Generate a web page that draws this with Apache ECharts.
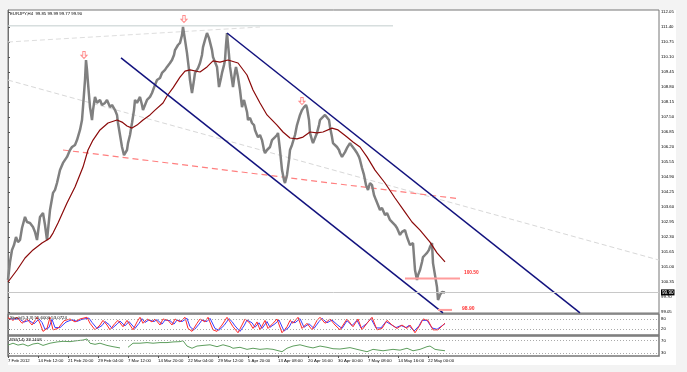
<!DOCTYPE html>
<html><head><meta charset="utf-8">
<script src="https://cdn.jsdelivr.net/npm/echarts@6/dist/echarts.min.js"></script>
<style>html,body{margin:0;padding:0;background:#f3f3f3}#c{width:687px;height:372px}</style>
</head><body><div id="c"></div>
<script>
// ---- data ----
const chartTitle = 'EURJPY,H4  99.85 99.99 99.77 99.90';
const stochTitle = 'Stoch(5,3,3) 55.6000 53.0724';
const rsiTitle = 'RSI(14) 38.1408';
const xTickLabels = ['7 Feb 2012','14 Feb 12:00','21 Feb 20:00','29 Feb 04:00','7 Mar 12:00','14 Mar 20:00','22 Mar 04:00','29 Mar 12:00','5 Apr 20:00','13 Apr 08:00','20 Apr 16:00','30 Apr 00:00','7 May 08:00','14 May 16:00','22 May 00:00'];
const barsPerXLabel = 30;
const totalBars = 651;
const priceTicks = [112.05,111.40,110.75,110.10,109.45,108.80,108.15,107.50,106.85,106.20,105.55,104.90,104.25,103.60,102.95,102.30,101.65,101.00,100.35,99.70,99.05];
const lastPrice = 99.90;
const priceMin = 99.007, priceMax = 112.137;
const stochTicks = [0,20,80,100];
const stochLevels = [80,20];
const rsiTicks = [30,70];
const rsiLevels = [70,30];

// bar index, close
const priceBars = [[0,100.44],[2,101.22],[4,101.74],[6,101.95],[8,102.30],[10,102.08],[12,102.17],[14,102.69],[17,103.17],[19,102.95],[22,102.91],[25,102.73],[27,102.52],[29,102.17],[32,103.17],[35,103.34],[37,102.82],[39,102.17],[42,103.47],[45,104.21],[47,104.34],[49,104.64],[52,105.20],[54,105.12],[55,105.51],[57,105.64],[59,105.77],[62,106.07],[64,106.20],[67,106.29],[69,106.50],[72,106.94],[74,107.37],[75,107.93],[77,109.10],[78,109.97],[79,109.54],[80,108.97],[82,107.93],[84,107.37],[85,107.80],[87,108.37],[89,108.11],[92,108.24],[94,108.02],[97,108.11],[99,108.24],[102,107.93],[104,108.02],[107,107.80],[109,107.59],[110,107.24],[112,106.72],[114,106.20],[116,105.85],[117,105.77],[119,106.07],[120,106.37],[122,106.72],[124,107.24],[126,107.80],[127,108.24],[129,108.11],[132,108.37],[134,108.02],[135,107.80],[137,108.02],[139,108.24],[142,108.37],[144,108.54],[147,108.89],[149,109.10],[152,109.19],[154,109.41],[157,109.54],[159,109.67],[162,109.84],[164,109.97],[166,110.19],[167,110.40],[170,110.62],[172,110.71],[174,111.05],[175,111.40],[177,110.84],[179,110.27],[181,109.54],[182,109.10],[184,108.54],[186,109.10],[187,109.41],[190,109.62],[192,109.84],[194,110.19],[195,110.53],[197,110.84],[199,111.14],[201,110.92],[202,110.84],[204,110.40],[205,110.10],[207,109.88],[209,109.67],[211,108.80],[213,109.19],[214,109.41],[216,109.75],[217,109.97],[218,110.62],[219,111.14],[221,110.19],[222,109.67],[224,109.10],[225,108.80],[227,109.45],[228,109.67],[230,109.23],[232,108.67],[234,107.93],[236,108.24],[237,108.24],[239,107.72],[240,107.37],[242,107.46],[244,107.24],[246,107.15],[247,106.94],[249,106.72],[250,106.63],[252,106.72],[254,106.50],[256,106.07],[257,105.94],[259,106.07],[262,106.20],[264,106.50],[267,106.63],[269,106.72],[270,106.81],[272,106.07],[274,105.20],[276,104.77],[277,104.64],[279,104.99],[281,105.64],[282,106.07],[284,106.29],[287,106.72],[289,107.15],[292,107.59],[294,107.80],[296,107.93],[298,108.02],[299,107.89],[301,107.37],[302,106.81],[304,106.50],[305,106.37],[307,106.59],[309,106.81],[311,107.15],[312,107.37],[314,107.46],[315,107.50],[317,107.59],[319,107.67],[321,107.37],[322,107.07],[324,106.63],[325,106.37],[327,106.29],[329,106.20],[331,106.07],[332,105.94],[334,105.77],[335,105.77],[337,105.98],[339,106.16],[342,106.37],[344,106.24],[347,106.07],[349,105.94],[351,105.77],[352,105.64],[354,105.29],[356,104.99],[358,104.55],[360,104.34],[362,104.64],[364,104.55],[366,104.12],[368,103.90],[370,103.69],[372,103.47],[374,103.56],[377,103.25],[379,103.34],[382,103.04],[384,103.12],[387,102.82],[389,102.69],[392,102.39],[394,102.52],[397,102.60],[399,102.30],[402,101.95],[405,102.04],[407,100.87],[409,100.44],[410,100.65],[412,100.87],[414,101.22],[415,101.43],[417,101.52],[419,101.61],[421,101.74],[422,101.87],[424,102.04],[425,101.17],[427,100.65],[429,100.13],[430,99.57],[432,99.79],[434,99.92],[436,100.00],[437,99.90]];

const movingAverage = [[0,100.35],[9,100.87],[17,101.39],[25,101.74],[34,102.04],[39,102.17],[42,102.26],[45,102.47],[50,102.91],[59,103.77],[67,104.47],[75,105.33],[80,106.07],[85,106.50],[92,106.94],[100,107.24],[109,107.37],[114,107.28],[119,107.11],[124,107.02],[129,107.15],[135,107.37],[142,107.59],[147,107.80],[155,108.11],[159,108.41],[165,108.76],[172,109.23],[177,109.49],[182,109.54],[192,109.45],[199,109.67],[205,109.93],[212,109.88],[220,109.97],[230,109.84],[239,109.32],[245,108.67],[252,108.11],[259,107.59],[269,107.15],[275,106.85],[282,106.59],[289,106.55],[295,106.63],[302,106.85],[309,106.81],[315,106.85],[324,107.02],[330,106.94],[339,106.63],[345,106.42],[352,106.20],[359,105.77],[367,105.20],[377,104.64],[387,103.99],[397,103.38],[404,102.95],[412,102.60],[422,102.08],[429,101.61],[437,101.22]];

const channelLower = [[113,110.06],[435,99.01]];
const channelUpper = [[219,111.14],[572,99.01]];
const dashedSupport = [[55,106.07],[452,103.95]];
const longGrayTrend = [[0,109.10],[651,101.30]];
const topGrayTrend = [[0,110.75],[252,111.40]];
const topLevel = [[0,111.45],[385,111.45]];
const level10050 = [[397,100.50],[452,100.50]];
const level9890 = [[430,99.14],[444,99.14]];
const level10050Text = '100.50';
const level9890Text = '98.90';
const fractalArrows = [[76,110.19],[176,111.75],[294,108.19]];

const stochMain = [[0,88],[5,72],[9,90],[14,55],[19,80],[24,45],[29,90],[32,55],[35,8],[39,25],[42,90],[45,17],[50,25],[56,70],[62,80],[67,63],[72,80],[79,90],[82,55],[87,17],[92,45],[95,72],[99,45],[102,17],[107,55],[110,72],[115,35],[119,72],[125,17],[129,63],[132,90],[135,55],[139,80],[144,63],[147,80],[152,45],[155,80],[160,72],[164,45],[167,80],[172,63],[177,90],[180,25],[184,8],[189,55],[192,80],[197,63],[200,90],[205,17],[209,8],[214,45],[219,90],[222,63],[225,35],[230,0],[234,45],[237,80],[242,55],[245,25],[249,63],[252,17],[257,72],[260,25],[265,55],[269,80],[274,0],[279,35],[282,72],[285,55],[290,90],[294,25],[299,55],[304,17],[309,72],[312,90],[317,55],[322,80],[327,45],[332,17],[339,80],[345,35],[350,80],[354,17],[359,55],[364,90],[369,17],[374,25],[379,72],[384,45],[389,25],[394,45],[399,25],[402,45],[407,0],[412,45],[415,80],[420,72],[425,17],[430,17],[437,55.6]];
const stochSignal = [[2,80],[7,78],[11,82],[16,62],[21,72],[26,52],[31,80],[34,60],[37,20],[41,30],[44,78],[47,30],[52,30],[58,62],[64,76],[69,66],[74,78],[81,85],[84,60],[89,25],[94,42],[97,65],[101,48],[104,25],[109,50],[112,68],[117,40],[121,65],[127,25],[131,55],[134,82],[137,60],[141,75],[146,65],[149,76],[154,50],[157,74],[162,70],[166,50],[169,74],[174,65],[179,84],[182,35],[186,15],[191,50],[194,74],[199,65],[202,84],[207,25],[211,15],[216,42],[221,82],[224,65],[227,40],[232,8],[236,40],[239,74],[244,58],[247,32],[251,58],[254,25],[259,65],[262,32],[267,52],[271,74],[276,10],[281,32],[284,65],[287,58],[292,82],[296,32],[301,52],[306,25],[311,65],[314,84],[319,58],[324,74],[329,48],[334,25],[339,70],[344,42],[349,72],[353,28],[358,50],[363,82],[368,28],[373,28],[378,65],[383,48],[388,30],[393,42],[398,30],[401,42],[406,10],[411,40],[414,72],[419,72],[424,28],[429,20],[437,53.07]];

const rsiValues = [[0,56],[5,62],[10,56],[15,59.5],[20,53],[25,59.5],[30,62],[35,55],[42,62],[49,66],[55,68],[62,67],[69,70],[75,72],[79,75.5],[82,62],[87,58.5],[92,62],[99,55],[105,51],[112,47],[116,null],[120,49],[125,62],[132,62],[139,64],[145,62],[152,64],[159,64],[165,66],[172,67],[175,70],[179,53],[184,46],[189,53],[195,55],[202,57],[209,51],[215,57],[222,51],[225,46],[232,49],[239,42.5],[245,46],[252,42.5],[259,44.5],[265,42.5],[274,35],[279,46],[285,53],[292,57],[299,51],[305,47],[312,53],[319,49],[325,44.5],[332,43.5],[342,48],[349,42.5],[359,35],[365,42.5],[375,38],[385,42.5],[392,40],[399,46],[405,38],[412,42.5],[419,51],[422,53],[427,42.5],[432,40],[437,38.14]];

// ---- chart ----
const FONT = 'Liberation Sans';
const FS = 4.3;
const chart = echarts.init(document.getElementById('c'), null, {renderer: 'canvas'});
const xTickValues = xTickLabels.map((_, i) => i * barsPerXLabel);

function xAx(g, showLabels) {
  return {
    type: 'value', gridIndex: g, min: 0, max: totalBars,
    axisLine: {show: false}, splitLine: {show: false},
    axisTick: showLabels ? {show: true, length: 2, customValues: xTickValues, lineStyle: {color: '#555'}} : {show: false},
    axisLabel: showLabels ? {
      show: true, customValues: xTickValues, align: 'left', margin: 3,
      fontSize: FS, fontFamily: FONT, color: '#000',
      formatter: v => xTickLabels[Math.round(v / barsPerXLabel)] || ''
    } : {show: false}
  };
}
function yAx(g, min, max, ticks, fmt) {
  return {
    type: 'value', gridIndex: g, position: 'right', min: min, max: max,
    axisLine: {show: true, lineStyle: {color: '#707070', width: 1}},
    axisTick: {show: true, length: 2, customValues: ticks, lineStyle: {color: '#555'}},
    splitLine: {show: false},
    axisLabel: {show: true, customValues: ticks, margin: 2, fontSize: FS, fontFamily: FONT, color: '#000',
      formatter: fmt, rich: {cur: {backgroundColor: '#000', color: '#fff', fontSize: FS + 0.3, fontFamily: FONT, padding: [1, 1, 0, 1]}}}
  };
}
function seg(data, color, width, type, extra) {
  return Object.assign({
    type: 'line', xAxisIndex: 0, yAxisIndex: 0, data: data, symbol: 'none', silent: true,
    lineStyle: {color: color, width: width, type: type || 'solid'}, z: 3
  }, extra || {});
}

const option = {
  animation: false,
  backgroundColor: '#f3f3f3',
  graphic: [{type: 'rect', shape: {x: 8, y: 10, width: 668, height: 355}, style: {fill: '#ffffff'}, z: -10, silent: true}],
  title: [
    {text: chartTitle, left: 10, top: 12, padding: 0, textStyle: {fontSize: FS, fontFamily: FONT, fontWeight: 'normal', color: '#000'}},
    {text: stochTitle, left: 10, top: 316, padding: 0, textStyle: {fontSize: FS, fontFamily: FONT, fontWeight: 'normal', color: '#000'}},
    {text: rsiTitle, left: 10, top: 338, padding: 0, textStyle: {fontSize: FS, fontFamily: FONT, fontWeight: 'normal', color: '#000'}}
  ],
  grid: [
    {left: 8, top: 10, width: 651, height: 303, show: true, borderColor: '#777', borderWidth: 1, backgroundColor: 'transparent'},
    {left: 8, top: 314, width: 651, height: 21, show: true, borderColor: '#777', borderWidth: 1.5, backgroundColor: 'transparent'},
    {left: 8, top: 336, width: 651, height: 20, show: true, borderColor: '#777', borderWidth: 1.5, backgroundColor: 'transparent'}
  ],
  xAxis: [xAx(0, false), xAx(1, false), xAx(2, true)],
  yAxis: [
    yAx(0, priceMin, priceMax, priceTicks.concat([lastPrice]), v => Math.abs(v - lastPrice) < 1e-6 ? '{cur|' + v.toFixed(2) + '}' : v.toFixed(2)),
    yAx(1, -13, 109, stochTicks, v => String(v)),
    yAx(2, 21.4, 84.9, rsiTicks, v => String(v))
  ],
  series: [
    seg(topLevel, '#c3cdcd', 1),
    seg(topGrayTrend, '#dedede', 1, [5, 3]),
    seg(longGrayTrend, '#d8d8d8', 1, [5, 3]),
    seg(dashedSupport, '#ff7f7f', 1.2, [6, 4]),
    seg(priceBars, '#808080', 2.5, 'solid', {
      markLine: {silent: true, symbol: 'none', label: {show: false},
        lineStyle: {color: '#c8c8c8', width: 1, type: 'solid'}, data: [{yAxis: lastPrice}]}
    }),
    seg(movingAverage, '#8b0a0a', 1.2),
    seg(channelLower, '#12127e', 1.5),
    seg(channelUpper, '#12127e', 1.5),
    seg(level10050, '#ff9c9c', 2, 'solid', {endLabel: {show: true, formatter: level10050Text, color: '#ff3030', fontSize: 4.8, fontFamily: FONT, fontWeight: 'bold', offset: [-4, -6]}}),
    seg(level9890, '#ff9c9c', 2, 'solid', {endLabel: {show: true, formatter: level9890Text, color: '#ff3030', fontSize: 5, fontFamily: FONT, fontWeight: 'bold', offset: [2, -1]}}),
    {type: 'scatter', xAxisIndex: 0, yAxisIndex: 0, data: fractalArrows, silent: true, z: 5,
      symbol: 'path://M3,0L7,0L7,6L10,6L5,11L0,6L3,6Z', symbolSize: [6, 7],
      itemStyle: {color: '#ffffff', borderColor: '#ff6f6f', borderWidth: 1}},
    {type: 'line', xAxisIndex: 1, yAxisIndex: 1, data: stochSignal, symbol: 'none', silent: true,
      lineStyle: {color: '#3c3cff', width: 1},
      markLine: {silent: true, symbol: 'none', label: {show: false}, lineStyle: {color: '#aaa', width: 1, type: [1, 2]},
        data: stochLevels.map(v => ({yAxis: v}))}},
    {type: 'line', xAxisIndex: 1, yAxisIndex: 1, data: stochMain, symbol: 'none', silent: true,
      lineStyle: {color: '#ff2a2a', width: 1}},
    {type: 'line', xAxisIndex: 2, yAxisIndex: 2, data: rsiValues, symbol: 'none', silent: true, connectNulls: false,
      lineStyle: {color: '#5e9e5e', width: 1},
      markLine: {silent: true, symbol: 'none', label: {show: false}, lineStyle: {color: '#aaa', width: 1, type: [1, 2]},
        data: rsiLevels.map(v => ({yAxis: v}))}}
  ]
};
chart.setOption(option);
</script></body></html>
